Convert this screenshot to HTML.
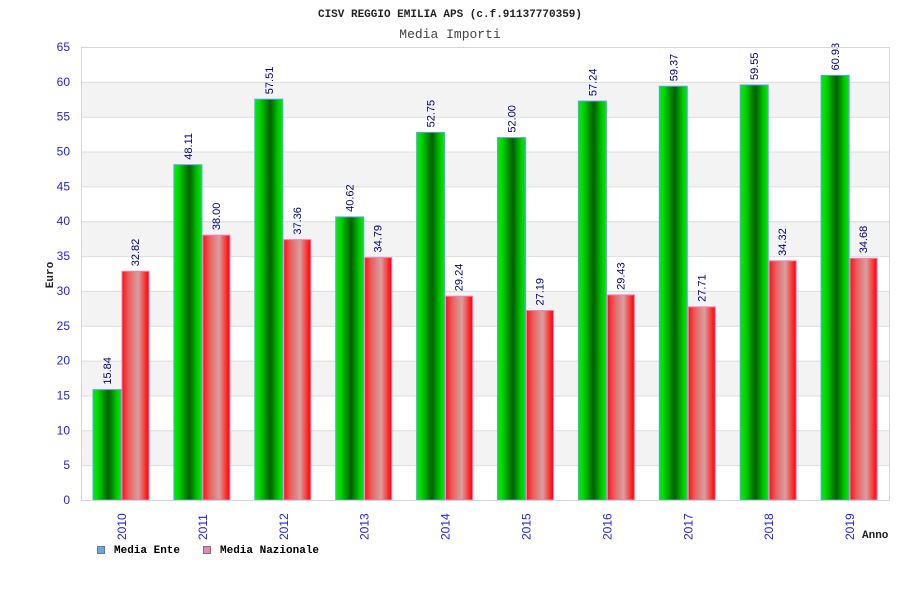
<!DOCTYPE html>
<html><head><meta charset="utf-8"><style>
body{margin:0;background:#fff;}
svg{display:block;}
</style></head><body>
<svg id="chart" width="900" height="600" xmlns="http://www.w3.org/2000/svg">
<defs>
<linearGradient id="gG" x1="0" x2="1" y1="0" y2="0">
<stop offset="0" stop-color="#00ee00"/><stop offset="0.15" stop-color="#00dd00"/><stop offset="0.55" stop-color="#005f00"/><stop offset="0.85" stop-color="#00cc00"/><stop offset="1" stop-color="#00ee00"/>
</linearGradient>
<linearGradient id="gR" x1="0" x2="1" y1="0" y2="0">
<stop offset="0" stop-color="#ff1010"/><stop offset="0.25" stop-color="#e86060"/><stop offset="0.6" stop-color="#d8a0a0"/><stop offset="0.9" stop-color="#ff2020"/><stop offset="1" stop-color="#ff0000"/>
</linearGradient>
</defs>
<text x="450" y="17" text-anchor="middle" font-family="Liberation Mono, monospace" font-weight="bold" font-size="11" fill="#222">CISV REGGIO EMILIA APS (c.f.91137770359)</text>
<text x="450" y="38" text-anchor="middle" font-family="Liberation Mono, monospace" font-size="13" fill="#444">Media Importi</text>
<g id="grid"></g>
<g id="bars"></g>
<g id="axes"></g>
<text transform="translate(53,275) rotate(-90)" text-anchor="middle" font-family="Liberation Mono, monospace" font-weight="bold" font-size="11" fill="#222">Euro</text>
<text x="862" y="538" font-family="Liberation Mono, monospace" font-weight="bold" font-size="11" fill="#222">Anno</text>
<g>
<rect x="97.5" y="546.5" width="7" height="7" fill="#60a8f0" stroke="#777"/>
<text x="114" y="553" font-family="Liberation Mono, monospace" font-weight="bold" font-size="11" fill="#000">Media Ente</text>
<rect x="203.5" y="546.5" width="7" height="7" fill="#f080b8" stroke="#777"/>
<text x="220" y="553" font-family="Liberation Mono, monospace" font-weight="bold" font-size="11" fill="#000">Media Nazionale</text>
</g>
</svg>
<script>
const categories=["2010","2011","2012","2013","2014","2015","2016","2017","2018","2019"];
const enteValues=[15.84,48.11,57.51,40.62,52.75,52.00,57.24,59.37,59.55,60.93];
const nazValues=[32.82,38.00,37.36,34.79,29.24,27.19,29.43,27.71,34.32,34.68];
const enteLabels=["15.84","48.11","57.51","40.62","52.75","52.00","57.24","59.37","59.55","60.93"];
const nazLabels=["32.82","38.00","37.36","34.79","29.24","27.19","29.43","27.71","34.32","34.68"];
const yTicks=[0,5,10,15,20,25,30,35,40,45,50,55,60,65];
const NS="http://www.w3.org/2000/svg";
const L=81,R=890,T=47,B=500,YMAX=65;
const y=v=>B-(v/YMAX)*(B-T);
const slot=(R-L)/categories.length;
const x=i=>L+i*slot;
function mk(tag,attrs,parent){const e=document.createElementNS(NS,tag);for(const k in attrs)e.setAttribute(k,attrs[k]);parent.appendChild(e);return e;}
const grid=document.getElementById('grid'),bars=document.getElementById('bars'),axes=document.getElementById('axes');
for(let i=0;i<yTicks.length-1;i++){
  if(i%2===1){const r=mk('rect',{x:L,y:y(yTicks[i+1]),width:R-L,height:y(yTicks[i])-y(yTicks[i+1]),fill:'#f3f3f3'},grid);
  
  }
}
yTicks.forEach(t=>{
  const l=mk('line',{x1:L,x2:R,y1:y(t)+0.5,y2:y(t)+0.5,stroke:'#dcdcdc'},grid);
  
  
  const tx=mk('text',{x:70,y:y(t)+4,'text-anchor':'end','font-family':'Liberation Sans, sans-serif','font-size':'12',fill:'#2020ee'},axes);
  tx.textContent=t;
  
  
});
const frame=mk('rect',{x:L+0.5,y:T+0.5,width:R-L-1,height:B-T,fill:'none',stroke:'#d6d6d6'},axes);


const bw=28;
categories.forEach((c,i)=>{
  const gx=x(i)+12;
  const g=mk('rect',{x:gx,y:y(enteValues[i]),width:bw,height:B-y(enteValues[i]),fill:'url(#gG)',stroke:'#5fa0f0','stroke-width':'1'},bars);
  
  
  const rx=gx+bw+1;
  const r=mk('rect',{x:rx,y:y(nazValues[i]),width:bw-1,height:B-y(nazValues[i]),fill:'url(#gR)',stroke:'#f080c0','stroke-width':'1'},bars);
  
  
  const lab1=mk('text',{transform:`translate(${gx+bw/2+4},${y(enteValues[i])-5}) rotate(-90)`,'font-family':'Liberation Sans, sans-serif','font-size':'11',fill:'#000080'},bars);
  lab1.textContent=enteLabels[i];
  
  
  const lab2=mk('text',{transform:`translate(${rx+bw/2+3},${y(nazValues[i])-5}) rotate(-90)`,'font-family':'Liberation Sans, sans-serif','font-size':'11',fill:'#000080'},bars);
  lab2.textContent=nazLabels[i];
  
  
  const xl=mk('text',{transform:`translate(${gx+bw+5},${540}) rotate(-90)`,'font-family':'Liberation Sans, sans-serif','font-size':'12',fill:'#2020ee'},axes);
  xl.textContent=c;
  
  
});
</script>
</body></html>
